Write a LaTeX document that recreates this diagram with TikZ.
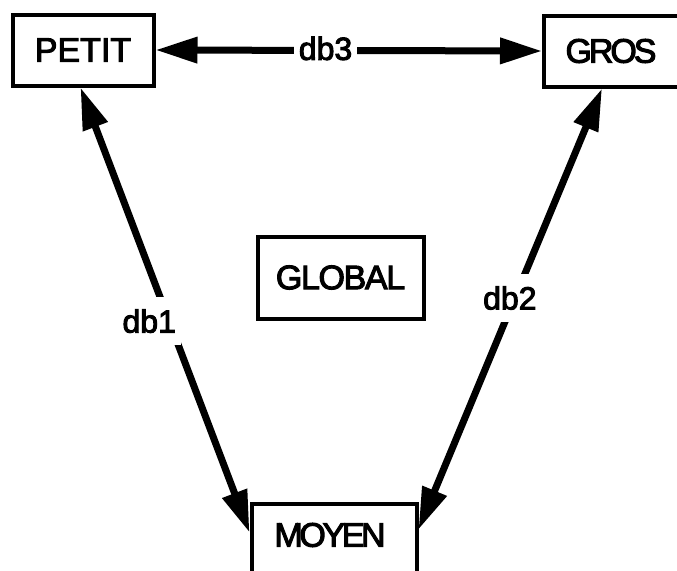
\documentclass[tikz,border=0pt]{standalone}
\usepackage{fontspec}
\setmainfont{Liberation Sans}
\newfontfamily\heavyfont[FakeBold=3]{Liberation Sans}
\usetikzlibrary{arrows.meta,calc}
\begin{document}
\begin{tikzpicture}[x=1pt,y=-1pt,
  box/.style={draw,line width=4pt,fill=white,inner sep=0pt},
  boxtext/.style={font=\heavyfont\fontsize{34}{40}\selectfont},
  conn/.style={line width=7pt,{Triangle[length=42pt,width=25pt]}-{Triangle[length=42pt,width=25pt]}},
  lab/.style={fill=white,inner xsep=5pt,inner ysep=12pt,font=\heavyfont\fontsize{32}{38}\selectfont}]
\useasboundingbox (0,0) rectangle (677,570);
\clip (0,0) rectangle (677,570);
% boxes
\node[box,boxtext,minimum width=141pt,minimum height=71pt] (petit) at (83,50) {PETIT};
\node[box,minimum width=176pt,minimum height=71pt] (gros) at (632,51) {};
\node[boxtext] (grostext) at (611,51) {\addfontfeatures{LetterSpace=-9}GROS};
\node[box,boxtext,minimum width=166pt,minimum height=82pt] (global) at (340.5,277.5) {\addfontfeatures{LetterSpace=-4}GLOBAL};
\node[box,minimum width=165pt,minimum height=115pt] (moyen) at (334,561) {};
\node[boxtext] (moyentext) at (330,535) {\addfontfeatures{LetterSpace=-10}MOYEN};
% connectors
\draw[conn] (petit.east) -- node[lab,inner ysep=4pt,pos=0.44,yshift=2pt] {db3} (gros.west);
\draw[conn] ($(petit.south west)+(70,0)$) -- node[lab,pos=0.525,xshift=-20pt] {db1} ($(moyen.north west)+(0,31)$);
\draw[conn] ($(gros.south west)+(60,0)$) -- node[lab,pos=0.475,xshift=-5pt] {db2} ($(moyen.north east)+(0,28)$);
\end{tikzpicture}
\end{document}
